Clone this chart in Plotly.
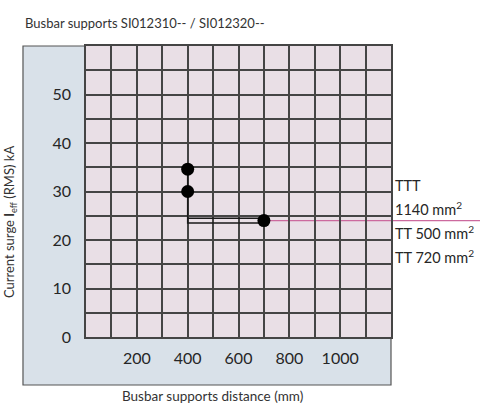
import plotly.graph_objects as go

# data
point_x = [400, 400, 700]          # busbar supports distance (mm)
point_y = [34.6, 30, 24]           # current surge (kA)

# connector drawn between the points (double horizontal line)
upper_line_x = [400, 700]
upper_line_y = [24.5, 24.5]
lower_line_x = [400, 400, 700]
lower_line_y = [34.6, 23.5, 23.5]

# pink reference line to the right labels
pink_y = 24

x_range = [0, 1200]
x_labels = [200, 400, 600, 800, 1000]
y_range = [0, 60]
y_labels = [0, 10, 20, 30, 40, 50]

right_labels = ['TTT', '1140 mm<sup>2</sup>', 'TT 500 mm<sup>2</sup>', 'TT 720 mm<sup>2</sup>']
right_label_y = [31.3, 26.4, 21.5, 16.7]

colors = {
    'panel': '#d9e1e9',
    'plot': '#e9dfe6',
    'grid': '#454545',
    'pink': '#cc6a9e',
    'text': '#262626',
}
FONT = 'Lato, Open Sans, sans-serif'

fig = go.Figure()

fig.add_trace(go.Scatter(
    x=upper_line_x, y=upper_line_y, mode='lines',
    line=dict(color='#1a1a1a', width=1.5), hoverinfo='skip'
))
fig.add_trace(go.Scatter(
    x=lower_line_x, y=lower_line_y, mode='lines',
    line=dict(color='#1a1a1a', width=1.5), hoverinfo='skip'
))
fig.add_trace(go.Scatter(
    x=point_x, y=point_y, mode='markers',
    marker=dict(color='black', size=13), cliponaxis=False
))

# outer panel and plot background
fig.add_shape(type='rect', xref='paper', yref='paper',
              x0=-0.2066, x1=1.0, y0=-0.165, y1=1.0,
              fillcolor=colors['panel'], line=dict(color='#555', width=1.2),
              layer='below')
fig.add_shape(type='rect', xref='paper', yref='paper',
              x0=0, x1=1, y0=0, y1=1,
              fillcolor=colors['plot'], line=dict(width=0), layer='below')

# pink line from the last point out past the plot edge
fig.add_shape(type='line', xref='paper', yref='y',
              x0=point_x[2] / x_range[1], x1=1.32, y0=pink_y, y1=pink_y,
              line=dict(color=colors['pink'], width=1.3), layer='below')

for txt, yy in zip(right_labels, right_label_y):
    fig.add_annotation(text=txt, xref='paper', yref='y', x=1.006, y=yy,
                       xanchor='left', yanchor='middle', showarrow=False,
                       font=dict(family=FONT, size=14.5, color=colors['text']))

fig.add_annotation(text='Busbar supports SI012310-- / SI012320--',
                   xref='paper', yref='paper', x=-0.2066, y=1.079,
                   xanchor='left', yanchor='middle', showarrow=False,
                   font=dict(family=FONT, size=13, color='#333'))
fig.add_annotation(text='Busbar supports distance (mm)',
                   xref='paper', yref='paper', x=0.416, y=-0.203,
                   xanchor='center', yanchor='middle', showarrow=False,
                   font=dict(family=FONT, size=13.5, color='#333'))
fig.add_annotation(text='Current surge <b>I</b><sub>eff</sub> (RMS) kA',
                   xref='paper', yref='paper', x=-0.249, y=0.395,
                   xanchor='center', yanchor='middle', showarrow=False,
                   textangle=-90,
                   font=dict(family=FONT, size=13, color='#333'))

fig.update_xaxes(
    range=x_range, tickvals=x_labels,
    showgrid=True, gridcolor=colors['grid'], gridwidth=1.5,
    minor=dict(dtick=100, showgrid=True, gridcolor=colors['grid'], gridwidth=1.5),
    showline=True, linecolor=colors['grid'], linewidth=1.5, mirror=True,
    zeroline=False, ticks='', ticklabelstandoff=6,
    tickfont=dict(family=FONT, size=16, color=colors['text'])
)
fig.update_yaxes(
    range=y_range, tickvals=y_labels,
    showgrid=True, gridcolor=colors['grid'], gridwidth=1.5,
    minor=dict(dtick=5, showgrid=True, gridcolor=colors['grid'], gridwidth=1.5),
    showline=True, linecolor=colors['grid'], linewidth=1.5, mirror=True,
    zeroline=False, ticks='', ticklabelstandoff=10,
    tickfont=dict(family=FONT, size=16, color=colors['text'])
)

fig.update_layout(
    width=480, height=410,
    margin=dict(l=86, r=89, t=46, b=73),
    paper_bgcolor='white',
    plot_bgcolor=colors['plot'],
    showlegend=False,
)

fig.write_html("out.html", config={'displayModeBar': False},
               post_script="document.body.style.margin='0';")
